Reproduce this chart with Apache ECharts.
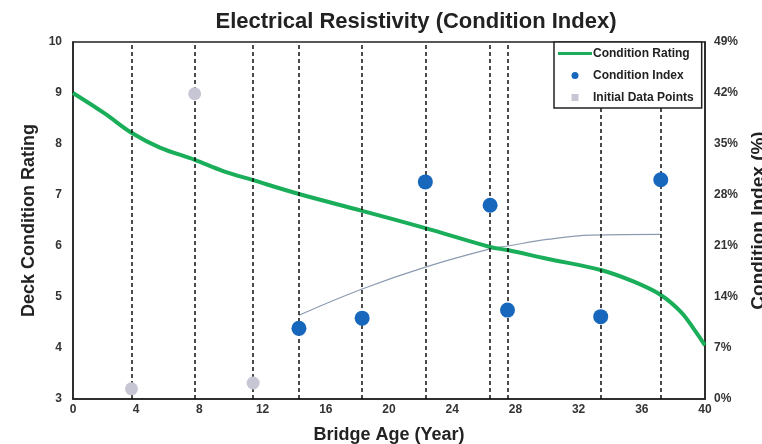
<!DOCTYPE html>
<html>
<head>
<meta charset="utf-8">
<script src="https://cdn.jsdelivr.net/npm/echarts@6/dist/echarts.min.js"></script>
<style>html,body{margin:0;padding:0;background:#fff;}#c{width:762px;height:444px;}</style>
</head>
<body>
<div id="c"></div>
<script>
// Condition Rating curve (age, rating)
const ratingAge = [0, 2, 3.7, 5.5, 7.7, 9.5, 11.4, 14.3, 18.3, 22.3, 26.4, 27.5, 30, 33.4, 35.5, 37.2, 38.5, 39.3, 40];
const ratingVal = [9.0, 8.6, 8.22, 7.93, 7.69, 7.47, 7.29, 7.02, 6.69, 6.35, 5.98, 5.92, 5.75, 5.53, 5.3, 5.04, 4.7, 4.37, 4.05];
// Condition Index points (age, %)
const indexAge = [14.3, 18.3, 22.3, 26.4, 27.5, 33.4, 37.2];
const indexVal = [9.7, 11.1, 29.8, 26.6, 12.2, 11.3, 30.1];
// Initial data points (age, %)
const initAge = [3.7, 7.7, 11.4];
const initVal = [1.4, 41.9, 2.2];
// Condition index trend (age, %)
const trendAge = [14.3, 18.3, 22.3, 26.4, 27.5, 30, 32.8, 37.2];
const trendVal = [11.5, 15.1, 18.1, 20.6, 21.0, 21.9, 22.5, 22.6];
// Inspection ages (dashed lines)
const inspectAges = [3.7, 7.7, 11.4, 14.3, 18.3, 22.3, 26.4, 27.5, 33.4, 37.2];

const zip = (a, b) => a.map((v, i) => [v, b[i]]);
const tickFont = { fontFamily: 'Liberation Sans', fontWeight: 'bold', fontSize: 12, color: '#333' };
const nameFont = { fontFamily: 'Liberation Sans', fontWeight: 'bold', fontSize: 18, color: '#222' };

const chart = echarts.init(document.getElementById('c'));
chart.setOption({
  animation: false,
  backgroundColor: '#fff',
  title: {
    text: 'Electrical Resistivity (Condition Index)',
    left: 411, top: 6, textAlign: 'center',
    textStyle: { fontFamily: 'Liberation Sans', fontWeight: 'bold', fontSize: 22, color: '#222' }
  },
  grid: { left: 73, right: 57, top: 42, bottom: 45, show: true, borderColor: '#222', borderWidth: 1.5, backgroundColor: 'transparent', outerBoundsMode: 'none', containLabel: false },
  legend: {
    orient: 'vertical', left: 554, top: 42, z: 10,
    borderColor: '#222', borderWidth: 1.5, backgroundColor: '#fff',
    padding: [5, 8, 4, 4], itemGap: 9, itemWidth: 34, itemHeight: 7,
    textStyle: { fontFamily: 'Liberation Sans', fontWeight: 'bold', fontSize: 12, lineHeight: 13, color: '#222', padding: [0, 0, 0, -4] },
    data: [
      { name: 'Condition Rating', icon: 'path://M0,0L40,0L40,3.5L0,3.5Z', itemStyle: { color: '#1aae5a' } },
      { name: 'Condition Index', icon: 'path://M5,0A5,5,0,1,1,5,10A5,5,0,1,1,5,0Z' },
      { name: 'Initial Data Points', icon: 'path://M0,0L10,0L10,10L0,10Z' }
    ]
  },
  xAxis: {
    type: 'value', min: 0, max: 40, interval: 4,
    name: 'Bridge Age (Year)', nameLocation: 'middle', nameGap: 27, nameTextStyle: nameFont,
    axisLine: { show: true, lineStyle: { color: '#222', width: 1.5 } },
    axisTick: { show: false }, splitLine: { show: false },
    axisLabel: Object.assign({ margin: 5 }, tickFont)
  },
  yAxis: [
    {
      type: 'value', min: 3, max: 10, interval: 1, position: 'left',
      name: 'Deck Condition Rating', nameLocation: 'middle', nameGap: 27, nameRotate: 90, nameTextStyle: nameFont,
      axisLine: { show: true, lineStyle: { color: '#222', width: 1.5 } },
      axisTick: { show: false }, splitLine: { show: false },
      axisLabel: Object.assign({ margin: 11 }, tickFont)
    },
    {
      type: 'value', min: 0, max: 49, interval: 7, position: 'right',
      name: 'Condition Index (%)', nameLocation: 'middle', nameGap: 43, nameRotate: 90,
      nameTextStyle: Object.assign({}, nameFont, { fontSize: 19 }),
      axisLine: { show: true, lineStyle: { color: '#222', width: 1.5 } },
      axisTick: { show: false }, splitLine: { show: false },
      axisLabel: Object.assign({ margin: 9, formatter: '{value}%' }, tickFont)
    }
  ],
  series: [
    {
      name: 'inspections', type: 'line', data: [], z: 1, silent: true,
      markLine: {
        silent: true, symbol: ['none', 'none'], label: { show: false },
        lineStyle: { color: '#111', type: [4, 3], width: 1.5 },
        data: inspectAges.map(a => ({ xAxis: a }))
      }
    },
    {
      name: 'Index Trend', type: 'line', yAxisIndex: 1, smooth: 0.4, showSymbol: false, z: 2,
      lineStyle: { color: '#8c9bb0', width: 1.2 },
      data: zip(trendAge, trendVal)
    },
    {
      name: 'Condition Rating', type: 'line', yAxisIndex: 0, smooth: 0.35, showSymbol: false, z: 3,
      lineStyle: { color: '#1aae5a', width: 4 }, itemStyle: { color: '#1aae5a' },
      data: zip(ratingAge, ratingVal)
    },
    {
      name: 'Condition Index', type: 'scatter', yAxisIndex: 1, symbolSize: 15, z: 5,
      itemStyle: { color: '#1767bd', opacity: 1 },
      data: zip(indexAge, indexVal)
    },
    {
      name: 'Initial Data Points', type: 'scatter', yAxisIndex: 1, symbolSize: 13, z: 5,
      itemStyle: { color: '#c6c6d4', opacity: 1 },
      data: zip(initAge, initVal)
    }
  ]
});
</script>
</body>
</html>
